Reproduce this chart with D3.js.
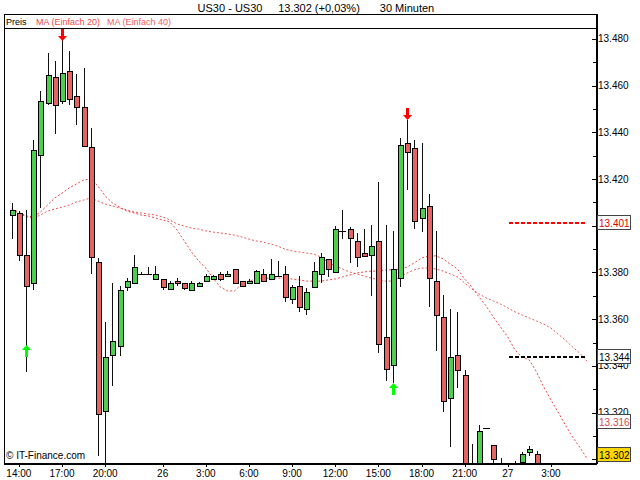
<!DOCTYPE html>
<html><head><meta charset="utf-8">
<script src="https://cdn.jsdelivr.net/npm/d3@7"></script>
<style>
body{margin:0;background:#fff}
svg{display:block}
text{font-family:"Liberation Sans",Arial,sans-serif}
</style>
</head><body>
<svg id="chart" width="640" height="480"></svg>
<script>
// ---------- DATA ----------
const symbol = "US30 - US30";
const interval = "30 Minuten";
const lastPrice = 13302;
const changePct = 0.03;
const startTime = "2012-04-25T13:30:00Z";   // first candle

const openP  = [13404.5,13405.5,13387.4,13375.4,13430.4,13452.5,13463.6,13453.3,13466.4,13455.5,
                13450.7,13433.6,13384.5,13320.5,13344.5,13348.4,13373.7,13375.4,13379.3,13379.3,
                13377.3,13377.3,13372.8,13376.4,13375.4,13372.5,13374.3,13376.2,13377.3,13379.5,
                13378.4,13381.4,13376.4,13375.4,13375.4,13379.3,13377.3,13378.4,13379.5,13368.6,
                13374.3,13364.2,13373.7,13379.3,13385.6,13380.3,13397.8,13398.5,13393.4,13388.2,
                13387.4,13393.4,13352.2,13340.4,13377.5,13435.6,13433.4,13403.5,13408.5,13376.4,
                13360.8,13326.4,13344.7,13336.2,13292.0,13292.0,13313.4,13306.1,13292.0,13290.0,
                13293.0,13299.0,13303.2,13302.3];
const highP  = [13409.8,13406.3,13406.8,13436.7,13457.9,13474.0,13470.4,13481.8,13475.0,13465.0,
                13467.6,13441.9,13386.2,13358.8,13375.5,13374.1,13377.6,13387.6,13380.0,13382.5,
                13382.8,13377.3,13376.4,13377.5,13375.4,13376.4,13375.8,13379.3,13378.8,13380.4,
                13380.6,13381.4,13376.4,13377.3,13381.0,13381.6,13385.8,13384.8,13382.7,13374.7,
                13378.5,13373.4,13384.6,13388.2,13385.6,13400.0,13406.8,13399.6,13396.8,13398.5,
                13400.3,13418.6,13400.3,13397.8,13437.7,13445.3,13436.7,13435.6,13413.5,13397.8,
                13370.4,13364.2,13363.2,13338.2,13306.5,13314.7,13313.4,13306.1,13300.5,13296.0,
                13299.4,13303.2,13305.7,13303.5];
const lowP   = [13394.5,13384.8,13337.4,13372.5,13407.6,13451.6,13439.3,13452.2,13451.6,13443.3,
                13433.6,13379.4,13301.3,13290.0,13331.2,13344.1,13372.0,13375.4,13379.0,13379.3,
                13377.3,13372.5,13372.5,13374.2,13372.5,13372.5,13374.3,13376.2,13377.3,13376.2,
                13378.4,13375.4,13373.7,13375.4,13375.4,13376.4,13377.3,13378.4,13367.5,13366.4,
                13363.2,13361.8,13373.7,13375.4,13378.2,13380.3,13394.3,13384.2,13382.5,13386.5,
                13370.0,13345.4,13333.5,13332.5,13373.7,13415.3,13398.5,13397.5,13365.3,13346.5,
                13320.4,13305.4,13330.4,13285.0,13284.0,13288.0,13313.4,13290.0,13286.0,13284.0,
                13286.0,13294.0,13301.4,13290.0];
const closeP = [13406.6,13387.4,13374.3,13432.6,13453.3,13464.7,13451.6,13465.4,13454.4,13450.7,
                13434.3,13386.5,13319.5,13343.7,13350.5,13372.6,13376.2,13382.5,13379.3,13379.3,
                13379.5,13373.7,13375.4,13375.4,13373.5,13375.4,13375.4,13378.4,13378.4,13377.3,
                13379.5,13375.4,13374.2,13376.4,13380.5,13376.4,13379.5,13378.4,13369.6,13373.7,
                13365.3,13371.5,13380.5,13386.5,13381.4,13398.5,13397.8,13394.6,13386.5,13387.2,
                13391.5,13349.2,13338.5,13381.4,13434.6,13431.5,13402.2,13407.5,13377.5,13361.8,
                13324.9,13343.6,13338.2,13290.0,13288.0,13312.2,13313.4,13299.9,13288.0,13287.0,
                13290.0,13302.3,13304.3,13292.0];

const ma20 = [13407.2,13405.9,13404.2,13403.8,13405.9,13408.9,13411.9,13414.0,13416.2,13417.9,
              13419.6,13420.0,13417.0,13412.8,13409.8,13408.0,13406.3,13405.5,13404.6,13404.2,
              13403.3,13402.5,13401.6,13398.2,13393.5,13388.8,13384.9,13381.9,13377.6,13373.8,
              13372.1,13372.1,13375.1,13376.3,13377.2,13377.6,13377.6,13377.6,13377.6,13377.2,
              13376.8,13376.3,13376.3,13376.3,13376.8,13377.2,13378.1,13378.9,13379.8,13380.2,
              13380.6,13380.6,13381.1,13381.1,13381.5,13382.3,13384.1,13386.2,13387.1,13387.1,
              13385.8,13383.6,13381.5,13377.2,13373.8,13369.5,13365.6,13360.9,13356.6,13352.4,
              13346.8,13343.8,13342.5,13337.4,13331.0,13325.4,13320.2,13314.7,13309.5,13305.2,
              13300.5];
const ma40 = [13406.8,13405.5,13403.8,13403.3,13404.6,13406.3,13407.2,13408.0,13408.9,13410.2,
              13411.0,13411.9,13410.6,13409.3,13408.5,13407.6,13406.8,13405.9,13405.5,13405.0,
              13404.6,13403.8,13402.5,13400.8,13399.9,13399.0,13398.6,13397.8,13397.3,13396.9,
              13396.5,13396.0,13395.2,13394.3,13393.5,13393.0,13392.2,13391.3,13390.0,13389.2,
              13388.8,13388.3,13387.9,13386.6,13384.5,13382.8,13381.5,13380.2,13379.4,13378.5,
              13377.6,13376.8,13376.3,13376.3,13378.1,13379.8,13381.1,13381.9,13381.9,13381.5,
              13380.6,13379.4,13378.1,13375.5,13372.9,13370.8,13369.1,13367.8,13366.5,13364.8,
              13363.1,13361.8,13360.5,13359.2,13357.9,13356.2,13353.6,13351.1,13348.1,13345.5,
              13342.1];

const downSignals = [{i: 7, v: 13479.1}, {i: 55, v: 13445.3}];
const upSignals   = [{i: 2, v: 13348.9}, {i: 53, v: 13332.7}];

const tickTimes  = ["2012-04-25T14:00Z","2012-04-25T17:00Z","2012-04-25T20:00Z","2012-04-26T00:00Z",
                    "2012-04-26T03:00Z","2012-04-26T06:00Z","2012-04-26T09:00Z","2012-04-26T12:00Z",
                    "2012-04-26T15:00Z","2012-04-26T18:00Z","2012-04-26T21:00Z","2012-04-27T00:00Z",
                    "2012-04-27T03:00Z"];
const tickLabels = ["14:00","17:00","20:00","26","3:00","6:00","9:00","12:00","15:00","18:00","21:00","27","3:00"];

const levelLines = [13401, 13344];            // dashed horizontal levels
const axisMarkers = [13401, 13344, 13316, 13302];
const yMajor = d3.range(13300, 13481, 20);
const yMinor = d3.range(13310, 13480, 20);

// ---------- SETUP ----------
const de = d3.formatLocale({decimal: ",", thousands: ".", grouping: [3], currency: ["", "€"]});
const fmtP = de.format(",.0f");
const fmtPct = de.format("+.2f");

const HALF = 30 * 60 * 1000;
const t0 = new Date(startTime).getTime();
const timeOf = i => new Date(t0 + i * HALF);

const L = 4, R = 596, T = 28, B = 463;
const x = d3.scaleUtc().domain([timeOf(-1.07), timeOf(81.27)]).range([L, R]);
const y = d3.scaleLinear().domain([13298.4, 13484.7]).range([B, T]);

const svg = d3.select("#chart").attr("shape-rendering", "crispEdges");

svg.append("defs").append("clipPath").attr("id", "plot")
  .append("rect").attr("x", L).attr("y", T).attr("width", R - L).attr("height", B - T);

// header
const head = svg.append("g").attr("font-size", 11).attr("fill", "#000");
head.append("text").attr("x", 230).attr("y", 12).attr("text-anchor", "middle").text(symbol);
head.append("text").attr("x", 319).attr("y", 12).attr("text-anchor", "middle")
  .text(`${fmtP(lastPrice)} (${fmtPct(changePct)}%)`);
head.append("text").attr("x", 407).attr("y", 12).attr("text-anchor", "middle").text(interval);

// legend box
svg.append("rect").attr("x", L + 0.5).attr("y", 14.5).attr("width", R - L).attr("height", T - 14.5)
  .attr("fill", "#fff").attr("stroke", "#000");
const leg = svg.append("g").attr("font-size", 9);
leg.append("text").attr("x", 6).attr("y", 24.5).attr("fill", "#000").text("Preis");
leg.append("text").attr("x", 36).attr("y", 24.5).attr("fill", "#f04848").text("MA (Einfach 20)");
leg.append("text").attr("x", 107).attr("y", 24.5).attr("fill", "#f06060").text("MA (Einfach 40)");

const plot = svg.append("g").attr("clip-path", "url(#plot)");

// moving averages
const maLine = d3.line().x((d, i) => x(timeOf(i))).y(d => y(d));
plot.append("path").datum(ma40).attr("d", maLine).attr("fill", "none")
  .attr("stroke", "#e85a5a").attr("stroke-width", 1).attr("stroke-dasharray", "2,2")
  .attr("shape-rendering", "auto");
plot.append("path").datum(ma20).attr("d", maLine).attr("fill", "none")
  .attr("stroke", "#e84848").attr("stroke-width", 1).attr("stroke-dasharray", "2,2")
  .attr("shape-rendering", "auto");

// level lines
const levelColors = ["#ff0000", "#000000"];
plot.selectAll(".lvl").data(levelLines).join("line")
  .attr("x1", x(timeOf(69.2))).attr("x2", x(timeOf(79.8)))
  .attr("y1", d => Math.round(y(d))).attr("y2", d => Math.round(y(d)))
  .attr("stroke", (d, i) => levelColors[i]).attr("stroke-width", 2).attr("stroke-dasharray", "4,2");

// candles
const candles = openP.map((o, i) => ({i, o, h: highP[i], l: lowP[i], c: closeP[i]}));
const cg = plot.selectAll(".cdl").data(candles).join("g");
cg.append("line")
  .attr("x1", d => Math.round(x(timeOf(d.i))) + 0.5).attr("x2", d => Math.round(x(timeOf(d.i))) + 0.5)
  .attr("y1", d => y(d.h)).attr("y2", d => y(d.l)).attr("stroke", "#111");
cg.filter(d => Math.abs(d.o - d.c) >= 0.8).append("rect")
  .attr("x", d => Math.round(x(timeOf(d.i))) - 2)
  .attr("width", 5)
  .attr("y", d => Math.round(y(Math.max(d.o, d.c))))
  .attr("height", d => Math.max(2, Math.round(y(Math.min(d.o, d.c))) - Math.round(y(Math.max(d.o, d.c)))))
  .attr("fill", d => d.c >= d.o ? "#4ccf4c" : "#e46464")
  .attr("stroke", "#000").attr("stroke-width", 1);
cg.filter(d => Math.abs(d.o - d.c) < 0.8).append("line")
  .attr("x1", d => Math.round(x(timeOf(d.i))) - 3).attr("x2", d => Math.round(x(timeOf(d.i))) + 4)
  .attr("y1", d => Math.round(y(d.c)) + 0.5).attr("y2", d => Math.round(y(d.c)) + 0.5)
  .attr("stroke", "#000");

// signal arrows
function arrow(g, cx, tipY, dir, color) {
  const s = dir; // +1 pointing down, -1 pointing up
  const p = [[cx - 1.5, tipY - s * 12], [cx + 1.5, tipY - s * 12], [cx + 1.5, tipY - s * 5],
             [cx + 4.5, tipY - s * 5], [cx, tipY], [cx - 4.5, tipY - s * 5], [cx - 1.5, tipY - s * 5]];
  g.append("path").attr("d", "M" + p.map(q => q.join(",")).join("L") + "Z")
    .attr("fill", color).attr("shape-rendering", "auto");
}
downSignals.forEach(s => arrow(plot, Math.round(x(timeOf(s.i))) + 0.5, y(s.v), 1, "#ff0000"));
upSignals.forEach(s => arrow(plot, Math.round(x(timeOf(s.i))) + 0.5, y(s.v), -1, "#00ff00"));

// frame
svg.append("line").attr("x1", L + 0.5).attr("x2", L + 0.5).attr("y1", 14).attr("y2", B).attr("stroke", "#000");
svg.append("line").attr("x1", L).attr("x2", R + 1).attr("y1", B + 0.5).attr("y2", B + 0.5)
  .attr("stroke", "#000").attr("stroke-width", 2);
svg.append("line").attr("x1", R + 0.5).attr("x2", R + 0.5).attr("y1", 14).attr("y2", B + 1)
  .attr("stroke", "#000").attr("stroke-width", 2);

// y axis (right); labels fully hidden under the marker boxes are left out, as in the reference
const hidden = v => axisMarkers.some(m => Math.abs(y(m) - y(v)) < 5);
const ya = svg.append("g").attr("font-size", 10);
ya.selectAll(".mj").data(yMajor).join("line")
  .attr("x1", R - 4).attr("x2", R + 2).attr("y1", d => Math.round(y(d)) + 0.5).attr("y2", d => Math.round(y(d)) + 0.5)
  .attr("stroke", "#000");
ya.selectAll(".mn").data(yMinor).join("line")
  .attr("x1", R - 3).attr("x2", R).attr("y1", d => Math.round(y(d)) + 0.5).attr("y2", d => Math.round(y(d)) + 0.5)
  .attr("stroke", "#000");
ya.selectAll(".lb").data(yMajor.filter(v => !hidden(v))).join("text")
  .attr("x", R + 2).attr("y", d => y(d) + 3.5).text(d => fmtP(d));

// axis markers
const mkFill = ["#fff", "#fff", "#fff", "#ffd700"];
const mkText = ["#e00000", "#000", "#d84848", "#000"];
const mk = svg.selectAll(".mk").data(axisMarkers).join("g");
mk.append("rect").attr("x", R + 1.5).attr("y", d => Math.round(y(d)) - 7.5).attr("width", 33).attr("height", 14)
  .attr("fill", (d, i) => mkFill[i]).attr("stroke", "#444");
mk.append("text").attr("x", R + 3).attr("y", d => y(d) + 4).attr("font-size", 10)
  .attr("fill", (d, i) => mkText[i]).text(d => fmtP(d));

// x axis
const xa = svg.append("g").attr("font-size", 10);
xa.selectAll("line").data(tickTimes).join("line")
  .attr("x1", d => Math.round(x(new Date(d))) + 0.5).attr("x2", d => Math.round(x(new Date(d))) + 0.5)
  .attr("y1", B + 1).attr("y2", B + 4).attr("stroke", "#000");
xa.selectAll("text").data(tickTimes).join("text")
  .attr("x", d => x(new Date(d))).attr("y", 477).attr("text-anchor", "middle")
  .text((d, i) => tickLabels[i]);

// copyright
svg.append("text").attr("x", 6).attr("y", 459).attr("font-size", 10).text("© IT-Finance.com");
</script>
</body></html>
